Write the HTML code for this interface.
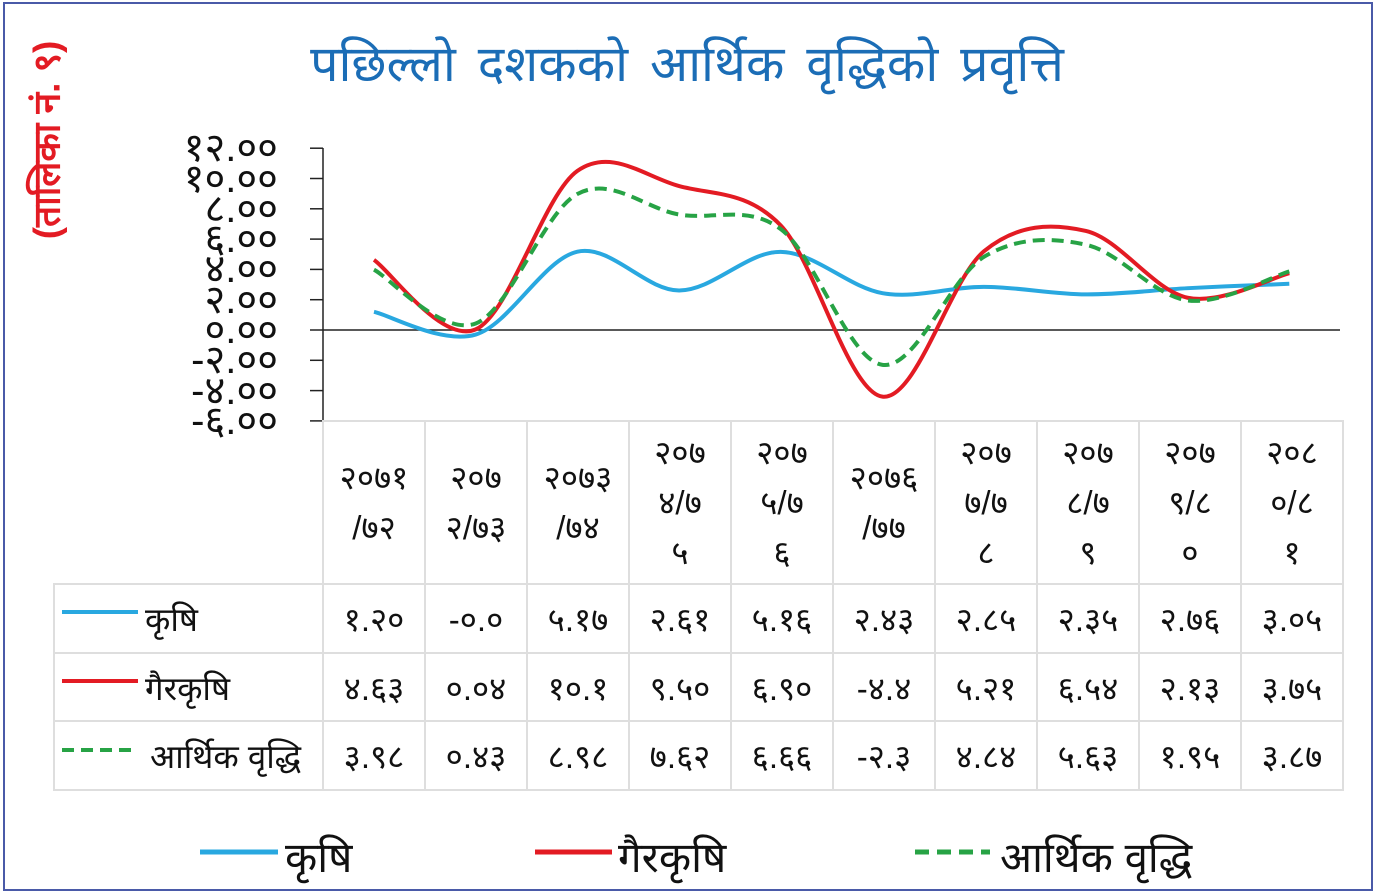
<!DOCTYPE html>
<html><head><meta charset="utf-8">
<style>
body{margin:0;background:#fff;}
#w{position:relative;width:1374px;height:896px;overflow:hidden;font-family:"Liberation Sans","DejaVu Sans",sans-serif;}
.bd{position:absolute;left:3px;top:2px;width:1366px;height:885px;border:2px solid #4a5aa8;}
.t{position:absolute;left:0;width:1374px;top:28px;text-align:center;font-size:50px;color:#1b6db6;word-spacing:8px;}
.rl{position:absolute;left:45px;top:140px;transform:translate(-50%,-50%) rotate(-90deg);font-size:37px;font-weight:bold;color:#e31b23;white-space:nowrap;}
.yl{position:absolute;right:1096px;font-size:40px;color:#111;line-height:30px;}
table{position:absolute;left:53px;top:420px;border-collapse:collapse;font-size:33px;color:#111;}
td{border:2px solid #dedede;text-align:center;padding:0;}
tr.h td{line-height:50px;}
</style></head><body><div id="w">
<div class="bd"></div>
<div class="t">पछिल्लो दशकको आर्थिक वृद्धिको प्रवृत्ति</div>
<div class="rl">(तालिका नं. ९)</div>
<div id="ylab"></div>
<svg width="1374" height="896" style="position:absolute;left:0;top:0">
<g stroke="#222" stroke-width="1.5" id="ax"></g>
<path id="pk" fill="none" stroke="#29a8e0" stroke-width="4"/>
<path id="pg" fill="none" stroke="#e31b23" stroke-width="4"/>
<path id="pa" fill="none" stroke="#27a345" stroke-width="4" stroke-dasharray="12,7"/>
<line x1="62" y1="612" x2="138" y2="612" stroke="#29a8e0" stroke-width="4"/>
<line x1="62" y1="681" x2="138" y2="681" stroke="#e31b23" stroke-width="4"/>
<line x1="62" y1="750" x2="138" y2="750" stroke="#27a345" stroke-width="4" stroke-dasharray="12,7"/>
<line x1="200" y1="852" x2="278" y2="852" stroke="#29a8e0" stroke-width="5"/>
<line x1="535" y1="852" x2="612" y2="852" stroke="#e31b23" stroke-width="5"/>
<line x1="915" y1="852" x2="990" y2="852" stroke="#27a345" stroke-width="5" stroke-dasharray="14,8"/>
<text x="285" y="872" font-size="42" fill="#111">कृषि</text>
<text x="618" y="872" font-size="42" fill="#111">गैरकृषि</text>
<text x="1000" y="872" font-size="42" fill="#111">आर्थिक वृद्धि</text>
</svg>
<table>
<tr class="h" style="height:163px"><td style="width:268px;border-top:none;border-left:none"></td>
<td style="width:100px">२०७१<br>/७२</td><td style="width:100px">२०७<br>२/७३</td><td style="width:100px">२०७३<br>/७४</td><td style="width:100px">२०७<br>४/७<br>५</td><td style="width:100px">२०७<br>५/७<br>६</td><td style="width:100px">२०७६<br>/७७</td><td style="width:100px">२०७<br>७/७<br>८</td><td style="width:100px">२०७<br>८/७<br>९</td><td style="width:100px">२०७<br>९/८<br>०</td><td style="width:100px">२०८<br>०/८<br>१</td></tr>
<tr style="height:69px"><td style="text-align:left;padding-left:90px">कृषि</td><td>१.२०</td><td>-०.०</td><td>५.१७</td><td>२.६१</td><td>५.१६</td><td>२.४३</td><td>२.८५</td><td>२.३५</td><td>२.७६</td><td>३.०५</td></tr>
<tr style="height:68px"><td style="text-align:left;padding-left:90px">गैरकृषि</td><td>४.६३</td><td>०.०४</td><td>१०.१</td><td>९.५०</td><td>६.९०</td><td>-४.४</td><td>५.२१</td><td>६.५४</td><td>२.१३</td><td>३.७५</td></tr>
<tr style="height:69px"><td style="text-align:left;padding-left:95px;white-space:nowrap">आर्थिक वृद्धि</td><td>३.९८</td><td>०.४३</td><td>८.९८</td><td>७.६२</td><td>६.६६</td><td>-२.३</td><td>४.८४</td><td>५.६३</td><td>१.९५</td><td>३.८७</td></tr>
</table>
</div>
<script>
var Y=v=>330-v*15.15,X=i=>374+i*101.7;
var ax=document.getElementById('ax'),yl=document.getElementById('ylab'),h='',lh='';
var dn=['०','१','२','३','४','५','६','७','८','९'];
function d(n){return String(n).split('').map(c=>c>='0'&&c<='9'?dn[c]:c).join('');}
for(var v=12;v>=-6;v-=2){var y=Y(v);h+='<line x1="310" y1="'+y+'" x2="323" y2="'+y+'"/>';
lh+='<div class="yl" style="top:'+(y-15)+'px">'+(v<0?'-':'')+d(Math.abs(v))+'.००</div>';}
h+='<line x1="323" y1="148" x2="323" y2="421"/><line x1="323" y1="330" x2="1340" y2="330"/>';
ax.innerHTML=h;yl.innerHTML=lh;
function path(a){var p=a.map((v,i)=>[X(i),Y(v)]),s='M'+p[0];
for(var i=0;i<p.length-1;i++){var p0=p[i-1]||p[i],p1=p[i],p2=p[i+1],p3=p[i+2]||p2;
s+=' C'+(p1[0]+(p2[0]-p0[0])/6)+','+(p1[1]+(p2[1]-p0[1])/6)+' '+(p2[0]-(p3[0]-p1[0])/6)+','+(p2[1]-(p3[1]-p1[1])/6)+' '+p2;}return s;}
document.getElementById('pk').setAttribute('d',path([1.2,-0.3,5.17,2.61,5.16,2.43,2.85,2.35,2.76,3.05]));
document.getElementById('pg').setAttribute('d',path([4.63,0.04,10.5,9.5,6.9,-4.4,5.21,6.54,2.13,3.75]));
document.getElementById('pa').setAttribute('d',path([3.98,0.43,8.98,7.62,6.66,-2.3,4.84,5.63,1.95,3.87]));
</script>
</body></html>
